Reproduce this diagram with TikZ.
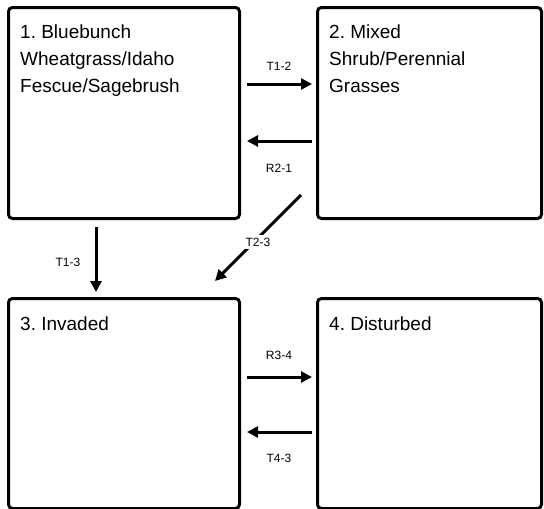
\documentclass[tikz,border=0pt]{standalone}
\usepackage{fontspec}
\setmainfont{Liberation Sans}
\usetikzlibrary{arrows.meta,calc}
\frenchspacing
\begin{document}
\begin{tikzpicture}[x=1pt,y=-1pt,
  box/.style={draw=black,line width=3pt,rounded corners=4pt,minimum width=231pt,minimum height=211pt,anchor=north west,inner sep=0pt},
  boxtext/.style={anchor=base west,align=left,inner sep=0pt,font=\fontsize{19}{27}\selectfont},
  arr/.style={line width=3pt,-{Triangle[length=11pt,width=11pt]}},
  lab/.style={font=\fontsize{12}{14}\selectfont,inner sep=1pt}]
\useasboundingbox (0,0) rectangle (544,509);
\node[box] (b1) at (7,6) {};
\node[box,minimum width=224pt] (b2) at (316,6) {};
\node[box,minimum height=210pt] (b3) at (7,297) {};
\node[box,minimum width=224pt,minimum height=210pt] (b4) at (316,297) {};
\node[boxtext] (t1) at (20,92) {1. Bluebunch\\Wheatgrass/Idaho\\Fescue/Sagebrush};
\node[boxtext] (t2) at (329,92) {2. Mixed\\Shrub/Perennial\\Grasses};
\node[boxtext] (t3) at (20,330) {3. Invaded};
\node[boxtext] (t4) at (329,330) {4. Disturbed};
% arrows between 1 and 2
\draw[arr] ($(b1.north east)+(6,78)$) -- ($(b2.north west)+(-4,78)$);
\node[lab] (l12) at (279,66) {T1-2};
\draw[arr] ($(b2.north west)+(-4,135)$) -- ($(b1.north east)+(6,135)$);
\node[lab] (l21) at (279,168) {R2-1};
% 1 to 3
\draw[arr] ($(b1.south west)+(89,7)$) -- ($(b3.north west)+(89,-5)$);
\node[lab] (l13) at (68,262) {T1-3};
% 2 to 3
\coordinate (s23) at (301,195);
\coordinate (e23) at (215,281);
\draw[arr] (s23) -- (e23);
\node[lab,fill=white,inner sep=3pt] (l23) at (258,242) {T2-3};
% 3 and 4
\draw[arr] ($(b3.north east)+(6,80)$) -- ($(b4.north west)+(-4,80)$);
\node[lab] (l34) at (279,355) {R3-4};
\draw[arr] ($(b4.north west)+(-4,135)$) -- ($(b3.north east)+(6,135)$);
\node[lab] (l43) at (279,458) {T4-3};
\end{tikzpicture}
\end{document}
